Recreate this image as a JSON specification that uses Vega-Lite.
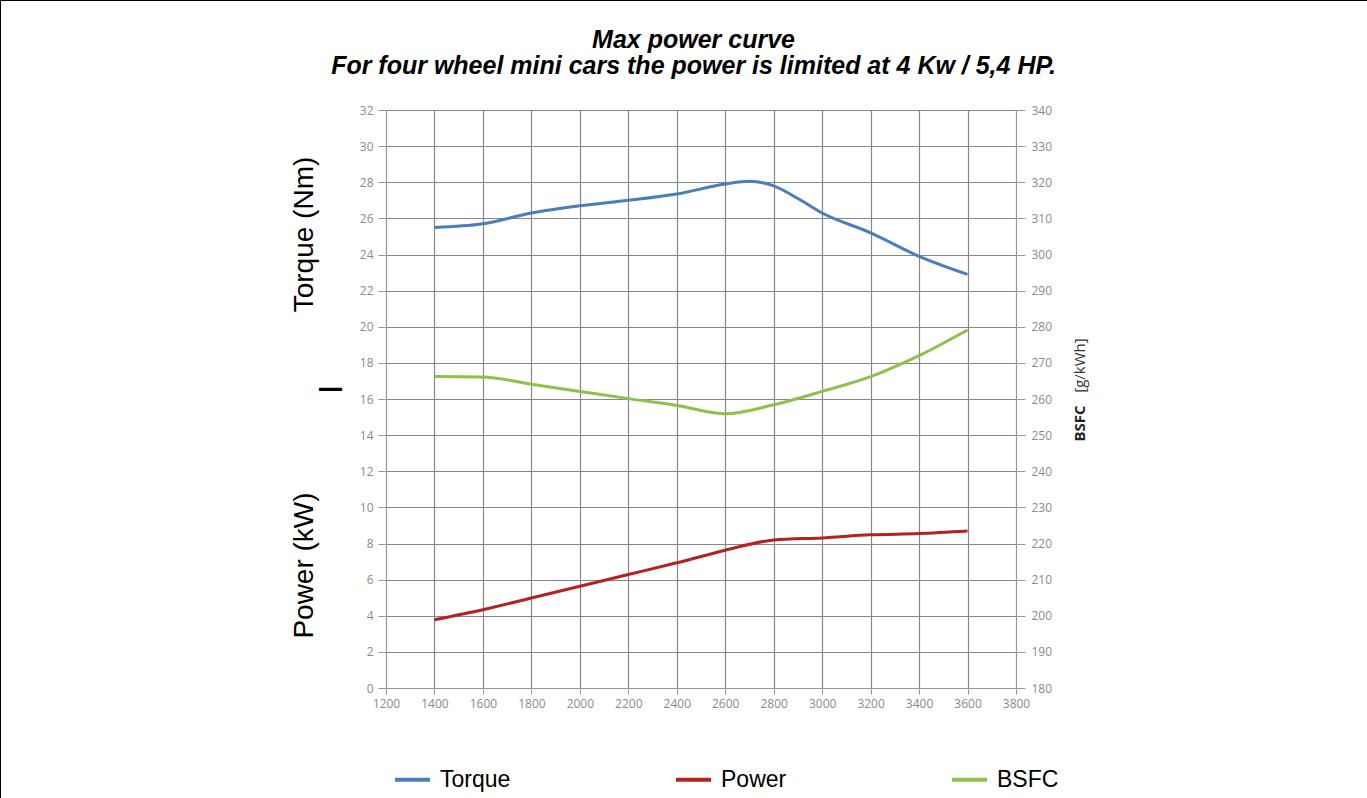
{
  "$schema": "https://vega.github.io/schema/vega-lite/v6.json",
  "autosize": {"type": "none"},
  "padding": 0,
  "width": 1367,
  "height": 798,
  "background": "white",
  "config": {
    "view": {"stroke": "#000000", "strokeWidth": 1},
    "axis": {
      "labelFont": "Open Sans",
      "labelFontSize": 12,
      "labelColor": "#8a8a8a",
      "domainColor": "#999999",
      "tickColor": "#999999",
      "gridColor": "#878787",
      "gridOpacity": 1,
      "gridWidth": 1.2,
      "labelFlush": false,
      "labelOverlap": false
    },
    "legend": {
      "labelExpr": "indexof(datum.label, 'BSFC') >= 0 ? '\u2002\u2002BSFC' : datum.label"
    }
  },
  "title": {
    "text": ["Max power curve", "For four wheel mini cars the power is limited at 4 Kw / 5,4 HP."],
    "font": "Liberation Sans",
    "fontSize": 25,
    "fontWeight": "bold",
    "fontStyle": "italic",
    "color": "#000000",
    "anchor": "middle",
    "frame": "group",
    "orient": "top",
    "offset": -79,
    "baseline": "top",
    "lineHeight": 26,
    "dx": 10
  },
  "datasets": {
    "torque": [
      {"rpm": 1400, "value": 25.5},
      {"rpm": 1600, "value": 25.7},
      {"rpm": 1800, "value": 26.3},
      {"rpm": 2000, "value": 26.7},
      {"rpm": 2200, "value": 27.0},
      {"rpm": 2400, "value": 27.35},
      {"rpm": 2600, "value": 27.9},
      {"rpm": 2700, "value": 28.05},
      {"rpm": 2800, "value": 27.8},
      {"rpm": 2900, "value": 27.1},
      {"rpm": 3000, "value": 26.3},
      {"rpm": 3200, "value": 25.2},
      {"rpm": 3400, "value": 23.9},
      {"rpm": 3600, "value": 22.9}
    ],
    "power": [
      {"rpm": 1400, "value": 3.78},
      {"rpm": 1600, "value": 4.33},
      {"rpm": 1800, "value": 4.98},
      {"rpm": 2000, "value": 5.63},
      {"rpm": 2200, "value": 6.28},
      {"rpm": 2400, "value": 6.93},
      {"rpm": 2600, "value": 7.63},
      {"rpm": 2800, "value": 8.19},
      {"rpm": 3000, "value": 8.31},
      {"rpm": 3200, "value": 8.48},
      {"rpm": 3400, "value": 8.55},
      {"rpm": 3600, "value": 8.69}
    ],
    "bsfc": [
      {"rpm": 1400, "value": 266.2},
      {"rpm": 1600, "value": 266.1},
      {"rpm": 1800, "value": 264.1},
      {"rpm": 2000, "value": 262.1},
      {"rpm": 2200, "value": 260.1},
      {"rpm": 2400, "value": 258.2},
      {"rpm": 2600, "value": 255.9},
      {"rpm": 2800, "value": 258.4},
      {"rpm": 3000, "value": 262.1},
      {"rpm": 3200, "value": 266.2},
      {"rpm": 3400, "value": 272.0},
      {"rpm": 3600, "value": 279.1}
    ]
  },
  "encoding": {
    "x": {
      "field": "rpm",
      "type": "quantitative",
      "scale": {"domain": [1200, 3800], "range": [386, 1016], "nice": false, "zero": false},
      "axis": {
        "orient": "bottom",
        "offset": -110,
        "values": [1200, 1400, 1600, 1800, 2000, 2200, 2400, 2600, 2800, 3000, 3200, 3400, 3600, 3800],
        "format": "d",
        "grid": true,
        "tickSize": 6,
        "labelPadding": 4,
        "title": null
      }
    }
  },
  "layer": [
    {
      "data": {"name": "torque"},
      "mark": {"type": "line", "interpolate": "monotone", "strokeWidth": 3},
      "encoding": {
        "y": {
          "field": "value",
          "type": "quantitative",
          "scale": {"domain": [0, 32], "range": [688, 110], "nice": false, "zero": false},
          "axis": {
            "orient": "left",
            "offset": -386,
            "values": [0, 2, 4, 6, 8, 10, 12, 14, 16, 18, 20, 22, 24, 26, 28, 30, 32],
            "grid": true,
            "tickSize": 8,
            "labelPadding": 5,
            "title": "Torque (Nm)",
            "titleFont": "Liberation Sans",
            "titleFontSize": 28,
            "titleFontWeight": "normal",
            "titleColor": "#000000",
            "titleAngle": -90,
            "titleAlign": "center",
            "titleBaseline": "middle",
            "titleX": -82,
            "titleY": 234
          }
        },
        "color": {
          "datum": "Torque",
          "type": "nominal",
          "scale": {"domain": ["Torque", "Power", "BSFC"], "range": ["#4a7ebb", "#b52020", "#8fc04a"]},
          "legend": {
            "orient": "none",
            "legendX": 393,
            "legendY": 760,
            "direction": "horizontal",
            "title": null,
            "symbolType": "stroke",
            "symbolSize": 1225,
            "symbolStrokeWidth": 4,
            "labelFont": "Liberation Sans",
            "labelFontSize": 23,
            "labelColor": "#000000",
            "labelOffset": 8,
            "columnPadding": 157,
            "padding": 0,
            "labelLimit": 300
          }
        }
      }
    },
    {
      "data": {"name": "power"},
      "mark": {"type": "line", "interpolate": "monotone", "strokeWidth": 3},
      "encoding": {
        "y": {
          "field": "value",
          "type": "quantitative",
          "scale": {"domain": [0, 32], "range": [688, 110], "nice": false, "zero": false},
          "axis": {
            "orient": "left",
            "offset": -386,
            "values": [0, 32],
            "labels": false,
            "ticks": false,
            "domain": false,
            "grid": false,
            "title": "Power (kW)",
            "titleFont": "Liberation Sans",
            "titleFontSize": 28,
            "titleFontWeight": "normal",
            "titleColor": "#000000",
            "titleAngle": -90,
            "titleAlign": "center",
            "titleBaseline": "middle",
            "titleX": -82,
            "titleY": 565
          }
        },
        "color": {"datum": "Power", "type": "nominal"}
      }
    },
    {
      "data": {"name": "bsfc"},
      "mark": {"type": "line", "interpolate": "monotone", "strokeWidth": 3},
      "encoding": {
        "y": {
          "field": "value",
          "type": "quantitative",
          "scale": {"domain": [180, 340], "range": [688, 110], "nice": false, "zero": false},
          "axis": {
            "orient": "right",
            "offset": -351,
            "values": [180, 190, 200, 210, 220, 230, 240, 250, 260, 270, 280, 290, 300, 310, 320, 330, 340],
            "grid": false,
            "tickSize": 9,
            "labelPadding": 6,
            "title": "BSFC",
            "titleFont": "Open Sans",
            "titleFontSize": 15,
            "titleFontWeight": "bold",
            "titleColor": "#222222",
            "titleAngle": -90,
            "titleAlign": "center",
            "titleBaseline": "middle",
            "titleX": 63,
            "titleY": 423
          }
        },
        "color": {"datum": "BSFC", "type": "nominal"}
      }
    },
    {
      "data": {"name": "bsfc"},
      "mark": {"type": "line", "opacity": 0, "color": "#ffffff"},
      "encoding": {
        "y": {
          "field": "value",
          "type": "quantitative",
          "scale": {"domain": [180, 340], "range": [688, 110], "nice": false, "zero": false},
          "axis": {
            "orient": "right",
            "offset": -351,
            "values": [180, 340],
            "labels": false,
            "ticks": false,
            "domain": false,
            "grid": false,
            "title": "[g/kWh]",
            "titleFont": "Open Sans",
            "titleFontSize": 15,
            "titleFontWeight": "normal",
            "titleColor": "#333333",
            "titleAngle": -90,
            "titleAlign": "center",
            "titleBaseline": "middle",
            "titleX": 63,
            "titleY": 365
          }
        }
      }
    },
    {
      "data": {"name": "power"},
      "mark": {"type": "line", "opacity": 0, "color": "#ffffff"},
      "encoding": {
        "y": {
          "field": "value",
          "type": "quantitative",
          "scale": {"domain": [0, 32], "range": [688, 110], "nice": false, "zero": false},
          "axis": {
            "orient": "left",
            "offset": -386,
            "values": [0, 32],
            "labels": false,
            "ticks": false,
            "domain": false,
            "grid": false,
            "title": "|",
            "titleFont": "Liberation Sans",
            "titleFontSize": 24,
            "titleFontWeight": "bold",
            "titleColor": "#000000",
            "titleAngle": -90,
            "titleAlign": "center",
            "titleBaseline": "middle",
            "titleX": -57,
            "titleY": 389
          }
        }
      }
    }
  ],
  "resolve": {"scale": {"y": "independent"}, "axis": {"y": "independent"}}
}
